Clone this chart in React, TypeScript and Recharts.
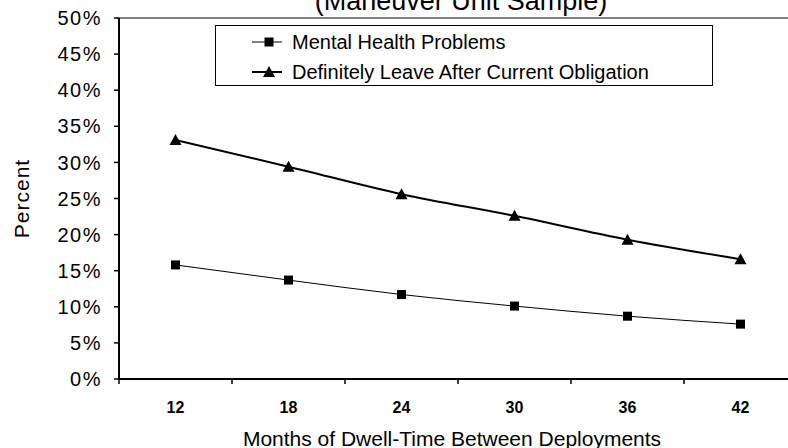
import React from 'react';
import {
  LineChart,
  Line,
  XAxis,
  YAxis,
  Legend,
  ReferenceLine,
  Customized,
} from 'recharts';

const months = [12, 18, 24, 30, 36, 42];
const mentalHealth = [15.8, 13.7, 11.7, 10.1, 8.7, 7.6];
const definitelyLeave = [33.1, 29.4, 25.6, 22.6, 19.3, 16.6];
const yTicks = [0, 5, 10, 15, 20, 25, 30, 35, 40, 45, 50];

const seriesNames = {
  mental: 'Mental Health Problems',
  leave: 'Definitely Leave After Current Obligation',
};

const data = months.map((m, i) => ({
  month: m,
  mental: mentalHealth[i],
  leave: definitelyLeave[i],
}));

// category boundaries (Excel draws tick marks between categories)
const step = months[1] - months[0];
const boundaries = [...months.map((m) => m - step / 2), months[months.length - 1] + step / 2];
const xTicks = [...boundaries, ...months].sort((a, b) => a - b);

const FONT = '"Liberation Sans", Arial, sans-serif';

const SquareDot = (props: any) => {
  const { cx, cy } = props;
  if (cx == null || cy == null) return null;
  return <rect x={cx - 4.5} y={cy - 4.5} width={9} height={9} fill="#000" />;
};

const TriangleDot = (props: any) => {
  const { cx, cy } = props;
  if (cx == null || cy == null) return null;
  return <polygon points={`${cx},${cy - 6} ${cx - 6},${cy + 5} ${cx + 6},${cy + 5}`} fill="#000" />;
};

const XTick = (props: any) => {
  const { x, y, payload } = props;
  const v = payload.value;
  if (boundaries.includes(v)) {
    return <line x1={x} y1={y} x2={x} y2={y + 5} stroke="#000" strokeWidth={1.5} />;
  }
  return (
    <text x={x} y={y + 34} textAnchor="middle" fontFamily={FONT} fontWeight="bold" fontSize={16} fill="#000">
      {v}
    </text>
  );
};

const LegendBox = () => (
  <div
    style={{
      width: 498,
      height: 61,
      border: '1.5px solid #000',
      background: '#fff',
      boxSizing: 'border-box',
    }}
  >
    <svg width={495} height={58} style={{ display: 'block' }}>
      <line x1={36} y1={16} x2={66} y2={16} stroke="#000" strokeWidth={1} />
      <rect x={48.5} y={11.5} width={9} height={9} fill="#000" />
      <text x={76} y={23} fontFamily={FONT} fontSize={20} fill="#000">{seriesNames.mental}</text>
      <line x1={36} y1={46} x2={66} y2={46} stroke="#000" strokeWidth={2} />
      <polygon points="53,40 47,51 59,51" fill="#000" />
      <text x={76} y={53} fontFamily={FONT} fontSize={20} fill="#000">{seriesNames.leave}</text>
    </svg>
  </div>
);

const Texts = () => (
  <g>
    <text x={461} y={10} textAnchor="middle" fontFamily={FONT} fontSize={27} fill="#000">
      (Maneuver Unit Sample)
    </text>
    <text x={452} y={446} textAnchor="middle" fontFamily={FONT} fontSize={21} fill="#000">
      Months of Dwell-Time Between Deployments
    </text>
  </g>
);

export default function App() {
  return (
    <div style={{ position: 'absolute', left: 0, top: 0, width: 788, height: 448, overflow: 'hidden', background: '#fff' }}>
      <LineChart width={810} height={448} data={data} margin={{ top: 18, right: 13, bottom: 0, left: 0 }}>
        <XAxis
          dataKey="month"
          type="number"
          domain={[boundaries[0], boundaries[boundaries.length - 1]]}
          ticks={xTicks}
          interval={0}
          tick={<XTick />}
          tickLine={false}
          tickSize={0}
          tickMargin={0}
          axisLine={{ stroke: '#000', strokeWidth: 2 }}
          height={69}
        />
        <YAxis
          domain={[0, 50]}
          ticks={yTicks}
          interval={0}
          width={119}
          tickFormatter={(v) => `${v}%`}
          tick={{ fontFamily: FONT, fontSize: 20, fill: '#000', letterSpacing: 1.5 }}
          tickLine={{ stroke: '#000', strokeWidth: 1.5 }}
          tickSize={5}
          tickMargin={12}
          axisLine={{ stroke: '#000', strokeWidth: 2 }}
          label={{
            value: 'Percent',
            angle: -90,
            position: 'insideLeft',
            offset: 22,
            style: { fontFamily: FONT, fontSize: 21, fill: '#000', textAnchor: 'middle', letterSpacing: 1 },
          }}
        />
        <ReferenceLine y={50} stroke="#000" strokeWidth={1} />
        <Legend
          layout="horizontal"
          verticalAlign="middle"
          align="center"
          content={<LegendBox />}
          wrapperStyle={{ position: 'absolute', left: 215, top: 25, width: 498, height: 61 }}
        />
        <Line
          type="monotone"
          dataKey="mental"
          name={seriesNames.mental}
          stroke="#000"
          strokeWidth={1}
          dot={<SquareDot />}
          isAnimationActive={false}
        />
        <Line
          type="monotone"
          dataKey="leave"
          name={seriesNames.leave}
          stroke="#000"
          strokeWidth={2}
          dot={<TriangleDot />}
          isAnimationActive={false}
        />
        <Customized component={Texts} />
      </LineChart>
    </div>
  );
}
